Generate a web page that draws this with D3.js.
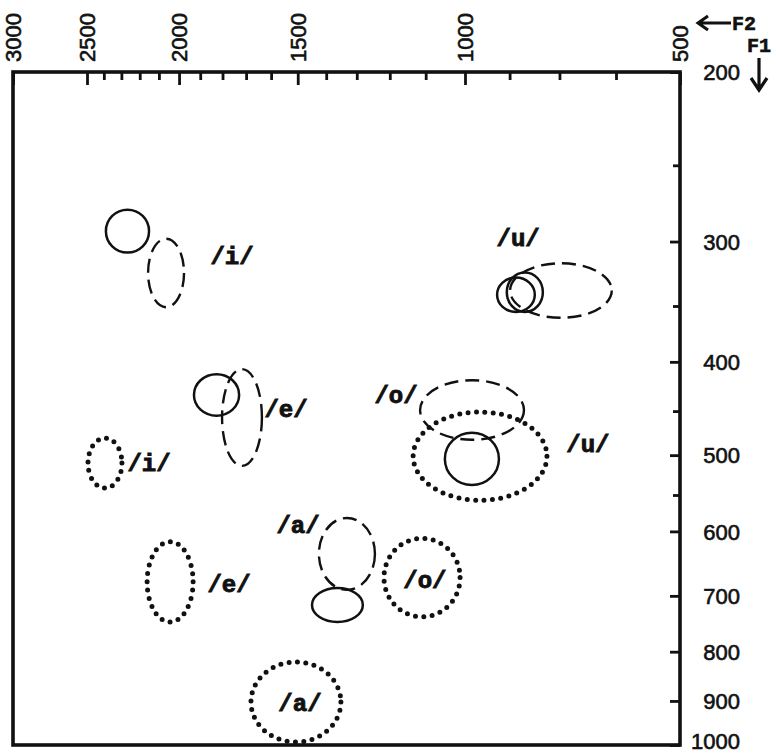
<!DOCTYPE html>
<html>
<head>
<meta charset="utf-8">
<script src="https://cdn.jsdelivr.net/npm/d3@7"></script>
<style>
body { margin: 0; background: #fff; }
</style>
</head>
<body>
<div id="chart"></div>
<script>
// F2 ticks (top axis, Hz)
let f2Major = [3000, 2500, 2000, 1500, 1000, 500];
let f2Minor = [2400, 2300, 2200, 2100, 1900, 1800, 1700, 1600, 1400, 1300, 1200, 1100, 900, 800, 700];
// F1 ticks (right axis, Hz)
let f1Major = [200, 300, 400, 500, 600, 700, 800, 900, 1000];
let f1Minor = [250, 350, 450, 550];

// vowel areas: [vowel, F2 high, F2 low, F1 low, F1 high]
let solidAreas = [
    ["i", 2388, 2151, 278, 308],
    ["e", 1929, 1729, 412, 455],
    ["u", 927, 848, 327, 355],
    ["u", 906, 832, 323, 355],
    ["o", 1050, 923, 474, 537],
    ["a", 1449, 1281, 687, 745]
];
let dashedAreas = [
    ["i", 2156, 1976, 298, 351],
    ["e", 1802, 1636, 407, 513],
    ["u", 899, 707, 316, 360],
    ["o", 1115, 870, 418, 482],
    ["a", 1425, 1244, 581, 690]
];
let dottedAreas = [
    ["i", 2494, 2297, 480, 541],
    ["e", 2161, 1933, 615, 745],
    ["u", 1134, 824, 451, 557],
    ["o", 1217, 1012, 610, 736],
    ["a", 1680, 1351, 820, 993]
];

// vowel labels: [text, F2, F1]
let vowelLabels = [
    ["/i/", 1759, 310],
    ["/e/", 1543, 447],
    ["/i/", 2151, 509],
    ["/u/", 882, 297],
    ["/o/", 1182, 433],
    ["/u/", 748, 486],
    ["/e/", 1772, 680],
    ["/a/", 1499, 591],
    ["/a/", 1492, 904],
    ["/o/", 1102, 674]
];

let width = 776, height = 755;
let plotLeft = 13, plotRight = 680, plotTop = 72, plotBottom = 745;

// F2 runs right to left, log spaced
let x = d3.scaleLog()
    .domain([3000, 2500, 1000, 700, 500])
    .range([plotLeft, 87, 465, 616, plotRight]);

let y = d3.scaleLog()
    .domain([200, 1000])
    .range([plotTop, plotBottom]);

let svg = d3.select("#chart").append("svg")
    .attr("width", width)
    .attr("height", height);

// top axis ticks (pointing into the plot)
let topMajor = svg.append("g")
    .attr("transform", "translate(0," + plotTop + ")")
    .call(d3.axisTop(x).tickValues(f2Major).tickSize(-13).tickFormat(""));
let topMinor = svg.append("g")
    .attr("transform", "translate(0," + plotTop + ")")
    .call(d3.axisTop(x).tickValues(f2Minor).tickSize(-8).tickFormat(""));

// right axis ticks
let rightMajor = svg.append("g")
    .attr("transform", "translate(" + plotRight + ",0)")
    .call(d3.axisRight(y).tickValues(f1Major).tickSize(-10).tickFormat(d3.format("d")));
let rightMinor = svg.append("g")
    .attr("transform", "translate(" + plotRight + ",0)")
    .call(d3.axisRight(y).tickValues(f1Minor).tickSize(-7).tickFormat(""));

[topMajor, topMinor, rightMajor, rightMinor].forEach(g => {
    g.select(".domain").remove();
    g.selectAll("line").attr("stroke", "#111").attr("stroke-width", 2.8);
});

// the last label sits a bit above the bottom corner so it stays on the page
rightMajor.selectAll("text")
    .attr("x", 60)
    .attr("y", d => Math.min(0, plotBottom - 4 - y(d)))
    .attr("dy", "0.35em")
    .attr("text-anchor", "end")
    .attr("fill", "#111")
    .attr("stroke", "#111")
    .attr("stroke-width", 0.6)
    .style("font-family", "'Liberation Sans', Arial, sans-serif")
    .style("font-size", "22px");

// rotated F2 labels
svg.selectAll(".f2label")
    .data(f2Major)
    .enter().append("text")
    .attr("class", "f2label")
    .attr("transform", d => "translate(" + x(d) + ",62) rotate(-90)")
    .attr("dy", "0.36em")
    .attr("text-anchor", "start")
    .attr("fill", "#111")
    .attr("stroke", "#111")
    .attr("stroke-width", 0.6)
    .style("font-family", "'Liberation Sans', Arial, sans-serif")
    .style("font-size", "22px")
    .text(d => d);

// frame
svg.append("rect")
    .attr("x", plotLeft)
    .attr("y", plotTop)
    .attr("width", plotRight - plotLeft)
    .attr("height", plotBottom - plotTop)
    .attr("fill", "none")
    .attr("stroke", "#111")
    .attr("stroke-width", 3.6);

// draw the vowel areas
function drawAreas(data, style) {
    let sel = svg.append("g").selectAll("ellipse")
        .data(data)
        .enter().append("ellipse")
        .attr("cx", d => (x(d[1]) + x(d[2])) / 2)
        .attr("cy", d => (y(d[3]) + y(d[4])) / 2)
        .attr("rx", d => Math.abs(x(d[2]) - x(d[1])) / 2)
        .attr("ry", d => Math.abs(y(d[4]) - y(d[3])) / 2)
        .attr("fill", "none")
        .attr("stroke", "#111");
    if (style == "solid") {
        sel.attr("stroke-width", 2.5);
    } else if (style == "dashed") {
        sel.attr("stroke-width", 2.4).attr("stroke-dasharray", "14 7");
    } else {
        sel.attr("stroke-width", 5)
            .attr("stroke-linecap", "round")
            .attr("stroke-dasharray", "0 8.4");
    }
}
drawAreas(solidAreas, "solid");
drawAreas(dashedAreas, "dashed");
drawAreas(dottedAreas, "dotted");

// vowel labels
svg.selectAll(".vowel")
    .data(vowelLabels)
    .enter().append("text")
    .attr("class", "vowel")
    .attr("x", d => x(d[1]))
    .attr("y", d => y(d[2]))
    .attr("dy", "0.35em")
    .attr("text-anchor", "middle")
    .attr("fill", "#111")
    .attr("stroke", "#111")
    .attr("stroke-width", 0.9)
    .style("font-family", "'Liberation Mono', 'Courier New', monospace")
    .style("font-weight", "bold")
    .style("font-size", "24px")
    .text(d => d[0]);

// F2 / F1 direction marks
svg.append("path")
    .attr("d", "M731,23 L699,23 M708,16 L698,23 L708,30")
    .attr("fill", "none")
    .attr("stroke", "#111")
    .attr("stroke-width", 3);
svg.append("text")
    .attr("x", 732).attr("y", 23).attr("dy", "0.35em")
    .attr("fill", "#111")
    .attr("stroke", "#111")
    .attr("stroke-width", 0.6)
    .style("font-family", "'Liberation Mono', 'Courier New', monospace")
    .style("font-weight", "bold")
    .style("font-size", "20px")
    .text("F2");
svg.append("text")
    .attr("x", 747).attr("y", 45).attr("dy", "0.35em")
    .attr("fill", "#111")
    .attr("stroke", "#111")
    .attr("stroke-width", 0.6)
    .style("font-family", "'Liberation Mono', 'Courier New', monospace")
    .style("font-weight", "bold")
    .style("font-size", "20px")
    .text("F1");
svg.append("path")
    .attr("d", "M759,58 L759,89 M751,78 L759,90 L767,78")
    .attr("fill", "none")
    .attr("stroke", "#111")
    .attr("stroke-width", 3.2);
</script>
</body>
</html>
